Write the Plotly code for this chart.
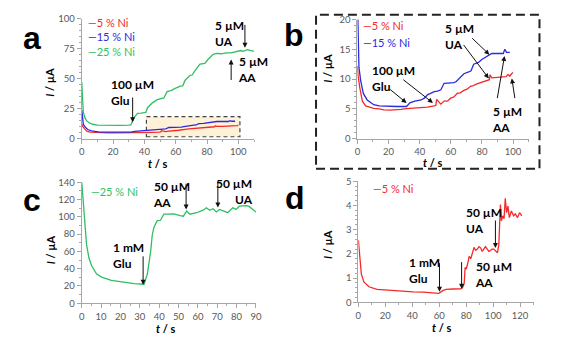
import plotly.graph_objects as go

W, H = 576, 347

# ---------------- data ----------------
# Panels a / b : 5 % Ni (red) and 15 % Ni (blue)
t_red = [0, 0.5, 1.6, 3.2, 5.3, 7.5, 10.5, 14, 17, 21, 25, 28, 31.6, 36, 41, 45, 49.4, 50.4, 50.9, 52.0,
         53.6, 55.7, 57.8, 59.9, 62, 64.1, 66, 68.4, 70.5, 72.6, 74.5, 76.8, 79, 81, 84.2, 84.8, 85.2,
         86.3, 90, 93.7, 95.5, 96.8, 97.9, 99, 100]
i_red = [12.2, 10.5, 8.5, 6.3, 5.5, 5.3, 5.1, 5.0, 4.85, 4.8, 4.8, 4.9, 5.05, 5.1, 5.2, 5.3, 5.5, 5.6, 6.6,
         6.3, 5.8, 6.3, 6.3, 6.8, 7.0, 7.6, 7.7, 8.1, 8.3, 8.8, 8.9, 9.2, 9.4, 9.5, 9.8, 9.9, 10.7, 10.2,
         10.3, 10.3, 10.4, 10.8, 10.5, 10.9, 11.1]

t_blue = [0, 0.5, 1, 2.1, 3.8, 6.3, 8.5, 10.5, 14, 19, 25, 31.6, 33.7, 36.9, 41, 43, 45.2, 47, 49.4, 51.5,
          53.6, 55.7, 58, 62, 63.5, 65.2, 68.4, 71.5, 73, 74.7, 77.8, 79.9, 83.1, 85, 86.3, 90, 93.7,
          94.7, 95.8, 97.9]
i_blue = [24, 15, 12, 9.8, 7.6, 6.5, 6.0, 5.7, 5.5, 5.4, 5.4, 5.4, 6.0, 6.3, 6.5, 6.8, 7.4, 7.6, 7.9, 8.0,
          8.2, 9.3, 9.3, 9.4, 9.6, 10.1, 10.9, 11.2, 11.4, 12.5, 12.8, 13.3, 13.8, 14.2, 14.3, 14.3, 14.3,
          15.0, 14.5, 14.5]

# Panel a : 25 % Ni (green)
t_green = [0, 0.4, 1, 2, 3, 5, 7, 10, 15, 20, 25, 30, 31.4, 33.5, 35.6, 38, 40.9, 42, 45.1, 48.2, 50,
           52.4, 54.5, 57, 59.7, 62.9, 64.5, 66, 69.2, 70.5, 72.3, 75.5, 78.6, 80.7, 83.9, 86, 89.1, 92,
           95.4, 98, 101.6, 103, 105.8, 107.5, 109, 111]
i_green = [47, 30, 22, 17.5, 15, 13, 12, 11.3, 11, 11, 11, 11.2, 11.5, 17.7, 21, 21.3, 21.8, 25.8, 29.8,
           32.5, 33.2, 33.9, 39.2, 40, 41.9, 43.8, 44, 48.7, 52.7, 53, 56.7, 62, 62.6, 66.1, 70.2, 71,
           70.7, 71.5, 71.5, 72.5, 73.4, 72.8, 74.2, 73.5, 73.4, 72.6]

# Panel c : 25 % Ni, 1 mM Glu
t_c = [0, 0.8, 1.7, 2.5, 3.7, 5.1, 7.6, 10.2, 15.3, 20.3, 27.1, 32.2, 33.9, 35.6, 36.4, 37.3, 39, 40.7,
       42.4, 44.1, 47.5, 50.8, 52.5, 54.2, 55.9, 59.3, 62.7, 64.4, 66.1, 67.8, 69.5, 71.2, 72.9, 75.4,
       78, 79.7, 81.4, 84.8, 86.4, 88.1, 90]
i_c = [140, 116, 88, 67.5, 52.6, 43.3, 34, 30.3, 26.5, 24.7, 22.8, 22, 34, 60, 78.7, 88, 95.5, 96, 103,
       103, 103.5, 101.4, 100.7, 106.7, 103, 104.7, 107.7, 110.5, 107.5, 109.3, 105.6, 108.6, 106.7,
       104.8, 110.5, 108.6, 112.3, 113, 112, 109.3, 105.6]

# Panel d : 5 % Ni, 1 mM Glu
t_d = [0, 1.2, 2.2, 4.1, 7.8, 13.9, 20, 26.1, 33, 40.7, 48, 55.3, 59.7, 62.6, 65.1, 70, 76.1, 77.3, 78.5,
       79.2, 80, 81, 82.2, 83.4, 84.6, 85.8, 87, 88.3, 89.5, 90.7, 91.9, 93.1, 94.3, 95.6, 96.8, 98,
       99.2, 100.5, 102.2, 103.2, 104.2, 105.4, 106.1, 107.1, 108.1, 109, 110, 111, 112, 113.5, 115.2,
       116.4, 118.1, 119.6, 121.3]
i_d = [2.57, 1.57, 1.17, 0.84, 0.64, 0.53, 0.5, 0.47, 0.45, 0.43, 0.42, 0.40, 0.37, 0.48, 0.53, 0.55,
       0.56, 0.61, 0.77, 1.44, 1.37, 1.57, 1.9, 1.8, 2.1, 2.27, 2.15, 2.2, 2.3, 2.25, 2.1, 2.2, 2.3, 2.2,
       2.1, 2.14, 2.2, 2.2, 2.1, 2.05, 2.37, 4.04, 3.37, 3.57, 3.45, 4.3, 3.7, 3.97, 3.5, 3.77, 3.57,
       3.65, 3.5, 3.7, 3.57]

RED, BLUE, GREEN = "#f42a2a", "#2a2ae0", "#2fbf62"

fig = go.Figure()

def line(x, y, color, xa, ya):
    fig.add_trace(go.Scatter(x=x, y=y, mode="lines", line=dict(color=color, width=1.3),
                             xaxis=xa, yaxis=ya, showlegend=False, hoverinfo="skip"))

line(t_red, i_red, RED, "x", "y")
line(t_blue, i_blue, BLUE, "x", "y")
line(t_green, i_green, GREEN, "x", "y")
line(t_red, i_red, RED, "x2", "y2")
line(t_blue, i_blue, BLUE, "x2", "y2")
line(t_c, i_c, GREEN, "x3", "y3")
line(t_d, i_d, RED, "x4", "y4")

def px(x):
    return x / W

def py(y):
    return 1 - y / H

FONT = "Lato"
TICKFONT = dict(family=FONT, size=9.5, color="#595959")

def axis(domain, rng, dtick, minor_dtick, anchor=None):
    return dict(domain=domain, range=rng, showline=True, linecolor="#a6a6a6", linewidth=1,
                showgrid=False, zeroline=False, ticks="outside", ticklen=4, tickcolor="#a6a6a6",
                tickfont=TICKFONT, dtick=dtick, tick0=0, anchor=anchor, fixedrange=True,
                minor=dict(ticks="outside", ticklen=2, tickcolor="#a6a6a6", dtick=minor_dtick,
                           showgrid=False))

fig.update_layout(
    width=W, height=H, margin=dict(l=0, r=0, t=0, b=0),
    paper_bgcolor="white", plot_bgcolor="rgba(0,0,0,0)",
    xaxis=axis([px(80), px(255)], [0, 110], 20, 10, anchor="y"),
    yaxis=axis([py(137), py(13)], [0, 100], 25, 5, anchor="x"),
    xaxis2=axis([px(360), px(534)], [0, 110], 20, 10, anchor="y2"),
    yaxis2=axis([py(137), py(14)], [0, 20], 5, 1, anchor="x2"),
    xaxis3=axis([px(80), px(257)], [0, 90], 10, 5, anchor="y3"),
    yaxis3=axis([py(307), py(182)], [0, 140], 20, 10, anchor="x3"),
    xaxis4=axis([px(361), px(539)], [0, 130], 20, 10, anchor="y4"),
    yaxis4=axis([py(306), py(181)], [0, 5], 1, 0.2, anchor="x4"),
)
fig.update_layout(xaxis=dict(tickvals=[0, 20, 40, 60, 80, 100]),
                  xaxis2=dict(tickvals=[0, 20, 40, 60, 80, 100]),
                  xaxis4=dict(tickvals=[0, 20, 40, 60, 80, 100, 120]))

shapes = []
# highlighted box in panel a
shapes.append(dict(type="rect", xref="x", yref="y", x0=41.3, x1=101, y0=1.6, y1=18.3,
                   fillcolor="#fdf1d8", line=dict(color="#444", width=1.2, dash="4px,3px"), layer="below"))
# dashed frame around panel b
shapes.append(dict(type="rect", xref="paper", yref="paper", x0=px(318), x1=px(545), y0=py(168), y1=py(9),
                   line=dict(color="#222", width=2, dash="9px,5px"), fillcolor="rgba(0,0,0,0)"))
fig.update_layout(shapes=shapes)

ann = []

def text(x, y, s, size=12, bold=True, color="black", xanchor="left", align="left", family=FONT):
    ann.append(dict(x=px(x), y=py(y), xref="paper", yref="paper", text=(f"<b>{s}</b>" if bold else s),
                    showarrow=False, xanchor=xanchor, yanchor="middle", align=align,
                    font=dict(family=family, size=size, color=color)))

def arrow(xa, ya, x, y, ax, ay):
    ann.append(dict(x=x, y=y, ax=ax, ay=ay, xref=xa, yref=ya, axref=xa, ayref=ya, text="",
                    showarrow=True, arrowhead=2, arrowsize=1, arrowwidth=1, arrowcolor="#111"))

# panel letters
text(29, 33, "a", size=32, family="Arial", xanchor="center")
text(296, 30, "b", size=32, family="Arial", xanchor="center")
text(29, 200, "c", size=32, family="Arial", xanchor="center")
text(297, 198, "d", size=32, family="Arial", xanchor="center")

# axis titles
def ytitle(x, y):
    ann.append(dict(x=px(x), y=py(y), xref="paper", yref="paper", text="<b><i>I</i> / µA</b>",
                    showarrow=False, textangle=-90, xanchor="center", yanchor="middle",
                    font=dict(family=FONT, size=11, color="black")))

def xtitle(x, y):
    ann.append(dict(x=px(x), y=py(y), xref="paper", yref="paper", text="<b><i>t</i> / s</b>",
                    showarrow=False, xanchor="center", yanchor="middle",
                    font=dict(family=FONT, size=11, color="black")))

ytitle(47, 79); xtitle(157, 163)
ytitle(330, 64); xtitle(437, 162)
ytitle(48, 252); xtitle(166, 333)
ytitle(329, 246); xtitle(446, 332)

# legends
text(84, 17, "—5 % Ni", size=11, bold=False, color=RED)
text(84, 32, "—15 % Ni", size=11, bold=False, color=BLUE)
text(84, 47, "—25 % Ni", size=11, bold=False, color=GREEN)
text(364, 20, "—5 % Ni", size=11, bold=False, color=RED)
text(364, 38, "—15 % Ni", size=11, bold=False, color=BLUE)
text(87, 192, "—25 % Ni", size=11, bold=False, color=GREEN)
text(374, 188, "—5 % Ni", size=11, bold=False, color=RED)

# panel a annotations
text(108, 89, "100 µM<br>Glu")
arrow("x", "y", 32.5, 13.7, 32.5, 35.5)
text(213, 28, "5 µM<br>UA")
arrow("x", "y", 104.2, 75.8, 104.2, 96)
text(237, 66, "5 µM<br>AA")
arrow("x", "y", 95.4, 66, 95.4, 47.6)

# panel b annotations
text(373, 75, "100 µM<br>Glu")
arrow("x2", "y2", 31.6, 6.0, 20.1, 8.46)
arrow("x2", "y2", 48.5, 6.0, 28.5, 10.1)
text(447, 32, "5 µM<br>UA")
arrow("x2", "y2", 84.8, 14.1, 72.8, 17.1)
arrow("x2", "y2", 84.4, 10.1, 67.5, 16.0)
text(495, 117, "5 µM<br>AA")
arrow("x2", "y2", 94.5, 13.9, 89.7, 6.55)
arrow("x2", "y2", 99.2, 10.1, 101.3, 6.55)

# panel c annotations
text(110, 258, "1 mM<br>Glu")
arrow("x3", "y3", 31.7, 21.3, 31.7, 56)
text(150, 195, "50 µM<br>AA")
arrow("x3", "y3", 53.9, 108.6, 53.9, 140)
text(256, 192, "50 µM<br>UA", xanchor="right", align="right")
arrow("x3", "y3", 70.3, 110.9, 70.3, 142)

# panel d annotations
text(410, 273, "1 mM<br>Glu")
arrow("x4", "y4", 60.2, 0.44, 60.2, 1.68)
arrow("x4", "y4", 76.6, 0.56, 76.6, 1.72)
text(477, 277, "50 µM<br>AA")
text(468, 222, "50 µM<br>UA")
arrow("x4", "y4", 101.7, 2.24, 101.7, 3.44)

fig.update_layout(annotations=ann)

fig.write_html("out.html")
